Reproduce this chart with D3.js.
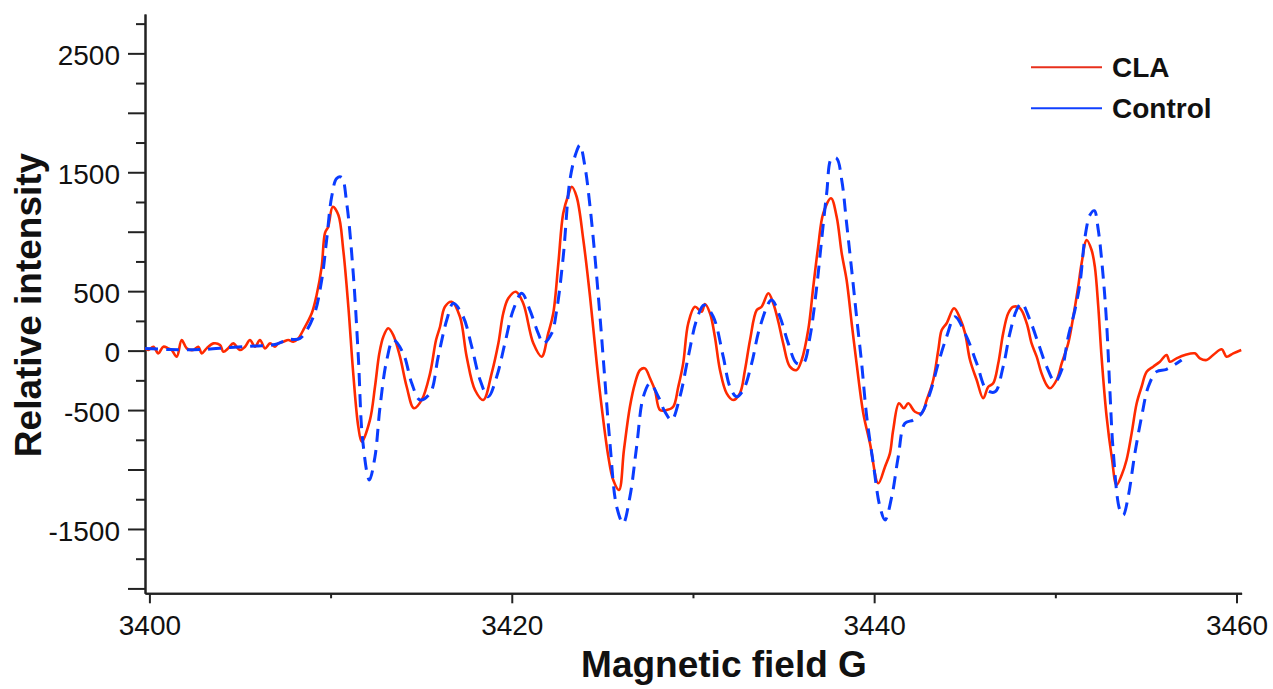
<!DOCTYPE html>
<html>
<head>
<meta charset="utf-8">
<script src="https://cdn.jsdelivr.net/npm/d3@7"></script>
<style>
  html, body { margin: 0; padding: 0; background: #fff; }
  svg { display: block; }
  text { font-family: "Liberation Sans", Arial, Helvetica, sans-serif; fill: #111; }
</style>
</head>
<body>
<svg id="chart" width="1273" height="689"></svg>
<script>
// ---- Data ----
const seriesNames = ["CLA", "Control"];

const claField = [
  3399.76, 3399.94, 3400.22, 3400.49, 3400.77, 3401.04, 3401.23, 3401.51, 3401.78, 3402.06,
  3402.42, 3402.70, 3402.89, 3403.16, 3403.53, 3403.90, 3404.08, 3404.35, 3404.63, 3405.00,
  3405.28, 3405.55, 3405.83, 3406.10, 3406.38, 3406.66, 3406.93, 3407.11, 3407.39, 3407.67,
  3407.94, 3408.22, 3408.49, 3408.96, 3409.23, 3409.51, 3409.69, 3409.87, 3410.12, 3410.43,
  3410.70, 3410.98, 3411.25, 3411.53, 3411.72, 3412.17, 3412.45, 3412.69, 3412.91, 3413.18,
  3413.46, 3413.83, 3414.20, 3414.60, 3415.03, 3415.49, 3415.82, 3416.04, 3416.31, 3416.68,
  3417.14, 3417.51, 3417.97, 3418.43, 3418.89, 3419.26, 3419.53, 3419.81, 3420.23, 3420.63,
  3421.19, 3421.65, 3422.01, 3422.29, 3422.57, 3422.84, 3423.12, 3423.31, 3423.58, 3423.95,
  3424.32, 3424.69, 3424.96, 3425.33, 3425.60, 3425.92, 3426.19, 3426.52, 3426.80, 3427.08,
  3427.35, 3427.63, 3427.90, 3428.18, 3428.55, 3428.91, 3429.19, 3429.46, 3429.74, 3430.11,
  3430.48, 3430.66, 3430.94, 3431.21, 3431.49, 3431.86, 3432.22, 3432.59, 3432.87, 3433.15,
  3433.52, 3433.79, 3434.16, 3434.43, 3434.71, 3434.98, 3435.35, 3435.72, 3436.00, 3436.36,
  3436.64, 3436.91, 3437.19, 3437.62, 3437.93, 3438.21, 3438.48, 3438.76, 3439.03, 3439.40,
  3439.77, 3440.23, 3440.60, 3440.87, 3441.05, 3441.37, 3441.64, 3441.88, 3442.25, 3442.62,
  3442.90, 3443.26, 3443.54, 3443.73, 3444.00, 3444.41, 3444.74, 3445.02, 3445.29, 3445.66,
  3446.02, 3446.30, 3446.57, 3446.85, 3447.12, 3447.40, 3447.68, 3448.05, 3448.42, 3448.69,
  3448.97, 3449.24, 3449.52, 3449.70, 3450.07, 3450.35, 3450.71, 3450.99, 3451.26, 3451.45,
  3451.73, 3452.00, 3452.18, 3452.37, 3452.55, 3452.83, 3453.11, 3453.38, 3453.66, 3453.93,
  3454.21, 3454.49, 3454.76, 3455.04, 3455.40, 3455.77, 3456.14, 3456.32, 3456.69, 3457.15,
  3457.70, 3457.98, 3458.35, 3458.71, 3459.18, 3459.45, 3459.82, 3460.26
];
const claIntensity = [
  19, 5, 33, -23, 33, 19, 5, -51, 89, 19,
  5, 33, -23, 19, 61, 47, -9, 19, 61, 5,
  33, 89, 33, 89, 19, 61, 33, 61, 75, 89,
  75, 103, 173, 314, 468, 706, 989, 1042, 1210, 1140,
  846, 369, -191, -640, -766, -584, -304, -23, 117, 188,
  131, -51, -304, -485, -415, -191, 89, 201, 369, 411,
  285, -51, -331, -415, -191, 61, 314, 440, 495, 398,
  61, -51, 145, 314, 734, 1155, 1309, 1378, 1294, 930,
  453, -107, -472, -892, -1088, -1172, -836, -472, -275, -163,
  -149, -233, -331, -500, -500, -472, -304, -107, 230, 369,
  327, 392, 314, 117, -163, -359, -415, -359, -163, 89,
  341, 369, 482, 398, 243, 61, -135, -163, -79, 173,
  537, 874, 1155, 1281, 1126, 818, 594, 230, -107, -527,
  -780, -1116, -976, -864, -668, -443, -485, -443, -514, -527,
  -415, -247, 5, 173, 230, 356, 272, 145, -79, -247,
  -401, -304, -275, -107, 145, 314, 369, 356, 230, 61,
  -51, -191, -289, -317, -247, -107, 61, 285, 537, 734,
  930, 846, 706, 369, -51, -556, -892, -1130, -1046, -920,
  -696, -443, -304, -177, -135, -93, -37, -93, -65, -37,
  -23, -65, -79, -37, 11, -51, -23, 5
];

const ctrlField = [
  3399.76, 3401.14, 3402.79, 3404.45, 3405.83, 3406.93, 3407.65, 3408.31, 3409.05, 3409.51,
  3409.78, 3410.06, 3410.34, 3410.61, 3410.89, 3411.25, 3411.53, 3411.77, 3412.14, 3412.45,
  3412.73, 3413.10, 3413.46, 3414.01, 3414.48, 3414.93, 3415.49, 3415.94, 3416.41, 3416.77,
  3417.32, 3417.79, 3418.25, 3418.70, 3419.17, 3419.62, 3420.08, 3420.55, 3421.00, 3421.46,
  3421.74, 3422.20, 3422.48, 3422.84, 3423.21, 3423.54, 3423.76, 3424.04, 3424.32, 3424.59,
  3424.87, 3425.14, 3425.42, 3425.79, 3426.15, 3426.52, 3426.89, 3427.26, 3427.63, 3428.09,
  3428.45, 3428.82, 3429.28, 3429.74, 3430.20, 3430.61, 3431.12, 3431.67, 3432.04, 3432.41,
  3432.78, 3433.24, 3433.70, 3434.34, 3434.80, 3435.26, 3435.72, 3436.09, 3436.46, 3436.83,
  3437.10, 3437.38, 3437.65, 3437.93, 3438.21, 3438.48, 3438.76, 3439.03, 3439.31, 3439.59,
  3439.95, 3440.32, 3440.60, 3440.97, 3441.33, 3441.70, 3442.16, 3442.62, 3443.08, 3443.54,
  3444.00, 3444.46, 3445.10, 3445.66, 3446.21, 3446.67, 3447.12, 3447.49, 3447.86, 3448.14,
  3448.60, 3449.06, 3449.52, 3449.98, 3450.35, 3450.71, 3451.08, 3451.36, 3451.64, 3451.91,
  3452.15, 3452.37, 3452.64, 3452.83, 3453.01, 3453.19, 3453.56, 3453.75, 3454.02, 3454.39,
  3454.76, 3455.13, 3455.59, 3456.14, 3456.97
];
const ctrlIntensity = [
  18, 9, 9, 26, 39, 51, 93, 103, 285, 594,
  930, 1294, 1449, 1457, 1239, 650, -51, -752, -1088, -892,
  -472, -79, 89, -23, -275, -415, -359, -51, 257, 398,
  285, 33, -247, -388, -219, 61, 341, 482, 341, 145,
  61, 145, 341, 790, 1435, 1659, 1729, 1547, 1210, 790,
  285, -247, -780, -1313, -1452, -1229, -808, -388, -275, -388,
  -514, -584, -388, -51, 257, 383, 285, -51, -304, -388,
  -331, -107, 201, 426, 285, 61, -107, -107, 117, 537,
  930, 1323, 1617, 1617, 1435, 1071, 678, 285, -107, -556,
  -948, -1313, -1425, -1229, -892, -611, -584, -527, -359, -107,
  117, 285, 117, -107, -331, -346, -135, 145, 341, 398,
  257, 61, -135, -262, -163, 117, 341, 566, 958, 1140,
  1177, 1014, 622, 230, -331, -836, -1341, -1383, -1229, -864,
  -556, -304, -177, -157, -79
];

const xMajorTicks = [3400, 3420, 3440, 3460];
const xMinorTicks = [3410, 3430, 3450];
const yMajorTicks = [-2000, -1500, -1000, -500, 0, 500, 1000, 1500, 2000, 2500];
const yMinorTicks = [-1750, -1250, -750, -250, 250, 750, 1250, 1750, 2250, 2750];
const yTickLabels = [2500, 1500, 500, 0, -500, -1500];
const xTitle = "Magnetic field G";
const yTitle = "Relative intensity";

// ---- Drawing ----
const svg = d3.select("#chart");
const x = d3.scaleLinear().domain([3399.757, 3460.28]).range([145, 1241.6]);
const y = d3.scaleLinear().domain([-2041, 2831]).range([593.3, 14]);

const axisColor = "#222";

function styleAxis(g) {
  g.selectAll("path.domain").attr("stroke", axisColor).attr("stroke-width", 2);
  g.selectAll(".tick line").attr("stroke", axisColor).attr("stroke-width", 2);
  g.selectAll(".tick text")
    .style("font-family", '"Liberation Sans", Arial, Helvetica, sans-serif')
    .style("font-size", "28px").attr("fill", "#111");
}

// Y axis: major ticks (with sparse labels) and minor ticks
svg.append("g").attr("transform", "translate(145,0)")
  .call(d3.axisLeft(y).tickValues(yMinorTicks).tickSize(9).tickSizeOuter(0).tickFormat(""))
  .call(styleAxis);
svg.append("g").attr("transform", "translate(145,0)")
  .call(d3.axisLeft(y).tickValues(yMajorTicks).tickSize(17).tickSizeOuter(0).tickPadding(8)
    .tickFormat(d => yTickLabels.includes(d) ? String(d) : ""))
  .call(styleAxis)
  .call(g => g.selectAll(".tick text").attr("dy", "0.4em"));

// X axis
svg.append("g").attr("transform", "translate(0,593.3)")
  .call(d3.axisBottom(x).tickValues(xMinorTicks).tickSize(5).tickSizeOuter(0).tickFormat(""))
  .call(styleAxis);
svg.append("g").attr("transform", "translate(0,593.3)")
  .call(d3.axisBottom(x).tickValues(xMajorTicks).tickSize(10).tickSizeOuter(0).tickPadding(12)
    .tickFormat(d => String(d)))
  .call(styleAxis);

// Lines
const line = d3.line().x(d => x(d[0])).y(d => y(d[1])).curve(d3.curveCatmullRom.alpha(0.5));
const claData = claField.map((f, i) => [f, claIntensity[i]]);
const ctrlData = ctrlField.map((f, i) => [f, ctrlIntensity[i]]);

svg.append("path").datum(claData)
  .attr("d", line).attr("fill", "none")
  .attr("stroke", "#ff2a00").attr("stroke-width", 2.6)
  .attr("stroke-linejoin", "round");

svg.append("path").datum(ctrlData)
  .attr("d", line).attr("fill", "none")
  .attr("stroke", "#0a3cff").attr("stroke-width", 3)
  .attr("stroke-dasharray", "13,8");

// Axis titles
svg.append("text")
  .attr("x", 724).attr("y", 677)
  .attr("text-anchor", "middle")
  .style("font-size", "37px").style("font-weight", "bold")
  .text(xTitle);

svg.append("text")
  .attr("transform", "translate(41,305) rotate(-90)")
  .attr("text-anchor", "middle")
  .style("font-size", "37px").style("font-weight", "bold")
  .text(yTitle);

// Legend
const legendColors = ["#e8301c", "#1040ff"];
const legend = svg.append("g");
seriesNames.forEach((name, i) => {
  const ly = 67.3 + i * 41;
  legend.append("line")
    .attr("x1", 1031).attr("x2", 1102).attr("y1", ly).attr("y2", ly)
    .attr("stroke", legendColors[i]).attr("stroke-width", 2);
  legend.append("text")
    .attr("x", 1112).attr("y", ly + 10)
    .style("font-size", "28px").style("font-weight", "bold")
    .text(name);
});
</script>
</body>
</html>
